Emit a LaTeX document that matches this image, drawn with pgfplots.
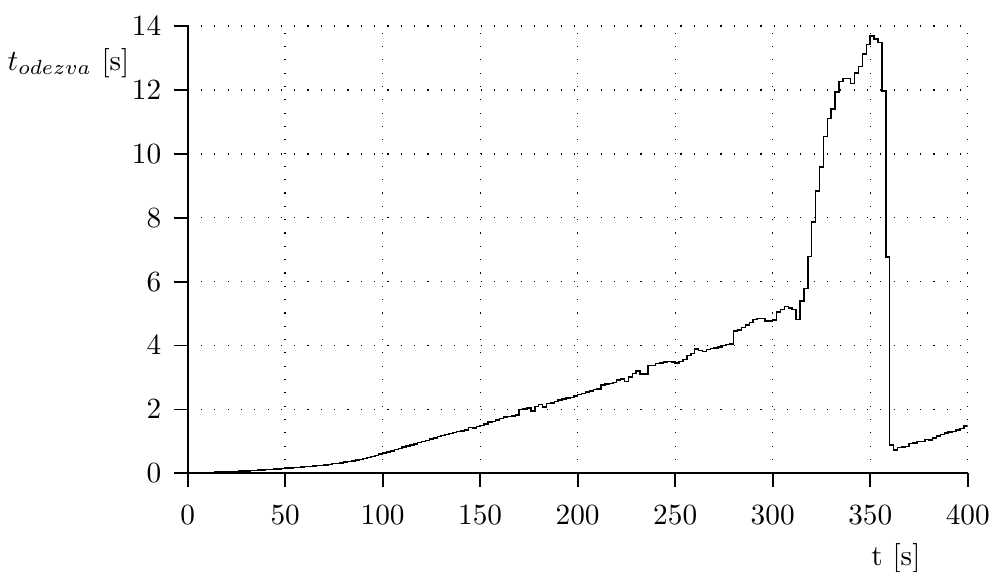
\documentclass[border=0pt]{standalone}
\usepackage{pgfplots}
\pgfplotsset{compat=1.18}
\usepackage{pgfplotstable}

% response time of the system, sampled every 2 s
\pgfplotstableread{
t v
0 0.000
2 0.005
4 0.010
6 0.015
8 0.020
10 0.025
12 0.030
14 0.035
16 0.040
18 0.045
20 0.050
22 0.055
24 0.065
26 0.070
28 0.075
30 0.080
32 0.090
34 0.095
36 0.100
38 0.110
40 0.120
42 0.125
44 0.135
46 0.140
48 0.150
50 0.160
52 0.170
54 0.180
56 0.190
58 0.200
60 0.210
62 0.220
64 0.230
66 0.240
68 0.250
70 0.260
72 0.280
74 0.300
76 0.310
78 0.330
80 0.350
82 0.370
84 0.390
86 0.420
88 0.440
90 0.470
92 0.500
94 0.530
96 0.560
98 0.600
100 0.630
102 0.670
104 0.700
106 0.740
108 0.780
110 0.820
112 0.850
114 0.890
116 0.920
118 0.960
120 1.000
122 1.030
124 1.070
126 1.110
128 1.150
130 1.180
132 1.210
134 1.250
136 1.280
138 1.310
140 1.330
142 1.360
144 1.440
146 1.420
148 1.470
150 1.500
152 1.550
154 1.600
156 1.630
158 1.670
160 1.720
162 1.760
164 1.780
166 1.800
168 1.820
170 2.000
172 2.010
174 2.050
176 1.950
178 2.100
180 2.150
182 2.080
184 2.180
186 2.200
188 2.240
190 2.300
192 2.330
194 2.360
196 2.380
198 2.420
200 2.460
202 2.500
204 2.540
206 2.580
208 2.620
210 2.640
212 2.770
214 2.790
216 2.820
218 2.850
220 2.920
222 2.950
224 2.880
226 3.010
228 3.130
230 3.200
232 3.110
234 3.110
236 3.370
238 3.380
240 3.430
242 3.450
244 3.490
246 3.500
248 3.490
250 3.460
252 3.500
254 3.560
256 3.690
258 3.750
260 3.890
262 3.840
264 3.820
266 3.870
268 3.900
270 3.930
272 3.950
274 4.000
276 4.030
278 4.050
280 4.460
282 4.490
284 4.560
286 4.640
288 4.720
290 4.820
292 4.850
294 4.850
296 4.770
298 4.770
300 4.800
302 5.050
304 5.120
306 5.220
308 5.170
310 5.120
312 4.820
314 5.390
316 5.780
318 6.790
320 7.860
322 8.840
324 9.590
326 10.550
328 11.100
330 11.410
332 11.930
334 12.260
336 12.360
338 12.360
340 12.200
342 12.530
344 12.740
346 13.120
348 13.430
350 13.690
352 13.590
354 13.480
356 11.960
358 6.770
360 0.880
362 0.730
364 0.800
366 0.830
368 0.840
370 0.930
372 0.950
374 1.000
376 0.990
378 1.060
380 1.050
382 1.100
384 1.170
386 1.220
388 1.260
390 1.300
392 1.310
394 1.360
396 1.400
398 1.480
400 1.520
}\odezva

\begin{document}
\begin{tikzpicture}
\begin{axis}[
  scale only axis,
  width=266.5pt, height=152.8pt,
  xmin=0, xmax=400, ymin=0, ymax=14,
  axis x line*=bottom, axis y line*=left,
  axis line style={black, line width=0.6pt},
  tick align=outside,
  major tick length=4.5pt,
  tick style={black, line width=0.6pt},
  xtick={0,50,...,400}, ytick={0,2,...,14},
  xticklabel style={yshift=-2.9pt},
  yticklabel style={xshift=-1pt},
  grid=major,
  grid style={black, line width=0.45pt, dash pattern=on 0.4pt off 4.15pt},
  xlabel={t [s]},
  ylabel={$t_{odezva}$ [s]},
  xlabel style={at={(axis description cs:0.908,-0.19)}, anchor=center},
  ylabel style={rotate=-90, at={(axis description cs:-0.0615,0.918)}, anchor=east},
]
\addplot[const plot, black, line width=0.5pt] table[x=t, y=v] {\odezva};
\end{axis}
% page margins around the plot area
\pgfresetboundingbox
\path[use as bounding box]
  ([shift={(-64.1pt,-33.7pt)}]current axis.south west)
  rectangle ([shift={(10pt,8.9pt)}]current axis.north east);
\end{tikzpicture}
\end{document}
